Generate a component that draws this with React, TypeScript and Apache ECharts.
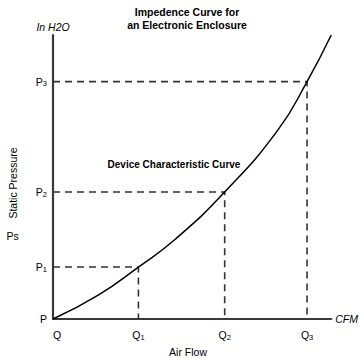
import React, { useEffect, useRef } from "react";
import * as echarts from "echarts";

// Air flow (x) positions of the operating points, in axis units (0..100)
const flowPoints: number[] = [30.7, 61.7, 91.3];
// Static pressure (y) values of the operating points, in axis units (0..100)
const pressurePoints: number[] = [18.3, 44.7, 83.6];
// Impedance curve: [airflow, pressure]
const curveFlow: number[] = [0, 16.4, 30.7, 43.6, 61.7, 80.8, 91.3, 100];
const curvePressure: number[] = [0, 8.5, 18.3, 27.8, 44.7, 66.5, 83.6, 100];
// Tick labels: base letter + subscript
const xTickBase = "Q";
const xTickSubs: string[] = ["", "1", "2", "3"];
const yTickBase = "P";
const yTickSubs: string[] = ["", "1", "2", "3"];

const FONT = "'Liberation Sans', Arial, Helvetica, sans-serif";

export default function App() {
  const ref = useRef<HTMLDivElement>(null);
  useEffect(() => {
    document.body.style.margin = "0";
    if (!ref.current) return;
    const chart = echarts.init(ref.current, null, { renderer: "svg" });
    const xTickValues = [0, ...flowPoints];
    const yTickValues = [0, ...pressurePoints];
    const rich = {
      b: { fontSize: 10.5, fontFamily: FONT, color: "#000" },
      s: { fontSize: 7.5, fontFamily: FONT, color: "#000", verticalAlign: "bottom", padding: [4, 0, 0, 0] },
      q0: { fontSize: 10.5, fontFamily: FONT, color: "#000", padding: [0, 0, 0, 8] },
    };
    const dashSeries = flowPoints.map((q, i) => ({
      type: "line",
      data: [
        [0, pressurePoints[i]],
        [q, pressurePoints[i]],
        [q, 0],
      ],
      symbol: "none",
      lineStyle: { color: "#333", width: 1.6, type: [7, 5] },
      z: 1,
    }));
    chart.setOption({
      animation: false,
      textStyle: { fontFamily: FONT },
      grid: { left: 53, right: 21, top: 35, bottom: 39 },
      xAxis: {
        type: "value",
        min: 0,
        max: 100,
        name: "CFM",
        nameLocation: "end",
        nameGap: 4,
        nameTextStyle: { fontStyle: "italic", fontSize: 10.5, color: "#000", fontFamily: FONT },
        splitLine: { show: false },
        axisTick: { show: false },
        axisLine: { lineStyle: { color: "#3a3a3a", width: 2.2 } },
        axisLabel: {
          customValues: xTickValues,
          margin: 10,
          formatter: (v: number) => {
            const i = xTickValues.indexOf(v);
            if (i < 0) return "";
            if (!xTickSubs[i]) return `{q0|${xTickBase}}`;
            return `{b|${xTickBase}}{s|${xTickSubs[i]}}`;
          },
          rich,
        },
      },
      yAxis: {
        type: "value",
        min: 0,
        max: 100,
        name: "In H2O",
        nameLocation: "end",
        nameGap: 3,
        nameTextStyle: { fontStyle: "italic", fontSize: 10.5, color: "#000", fontFamily: FONT },
        splitLine: { show: false },
        axisTick: { show: false },
        axisLine: { lineStyle: { color: "#3a3a3a", width: 2.2 } },
        axisLabel: {
          customValues: yTickValues,
          margin: 6,
          formatter: (v: number) => {
            const i = yTickValues.indexOf(v);
            if (i < 0) return "";
            if (!yTickSubs[i]) return `{b|${yTickBase}}`;
            return `{b|${yTickBase}}{s|${yTickSubs[i]}}`;
          },
          rich,
        },
      },
      graphic: [
        {
          type: "text",
          x: 187,
          y: 6,
          style: {
            text: "Impedence Curve for\nan Electronic Enclosure",
            fontSize: 10.5,
            fontWeight: "bold",
            fontFamily: FONT,
            fill: "#000",
            align: "center",
            lineHeight: 12.5,
          },
        },
        {
          type: "text",
          x: 174,
          y: 164,
          style: {
            text: "Device Characteristic Curve",
            fontSize: 10,
            fontWeight: "bold",
            fontFamily: FONT,
            fill: "#000",
            align: "center",
            verticalAlign: "middle",
          },
        },
        {
          type: "text",
          x: 12.5,
          y: 183,
          rotation: Math.PI / 2,
          style: {
            text: "Static Pressure",
            fontSize: 10.5,
            fontFamily: FONT,
            fill: "#000",
            align: "center",
            verticalAlign: "middle",
          },
        },
        {
          type: "text",
          x: 12.5,
          y: 236,
          style: {
            text: "Ps",
            fontSize: 10.5,
            fontFamily: FONT,
            fill: "#000",
            align: "center",
            verticalAlign: "middle",
          },
        },
        {
          type: "text",
          x: 188,
          y: 352,
          style: {
            text: "Air Flow",
            fontSize: 10.5,
            fontFamily: FONT,
            fill: "#000",
            align: "center",
            verticalAlign: "middle",
          },
        },
      ],
      series: [
        ...dashSeries,
        {
          type: "line",
          data: curveFlow.map((x, i) => [x, curvePressure[i]]),
          smooth: 0.5,
          symbol: "none",
          lineStyle: { color: "#000", width: 1.5 },
          z: 3,
        },
      ],
    });
    return () => chart.dispose();
  }, []);
  return <div ref={ref} style={{ width: 361, height: 358 }} />;
}
